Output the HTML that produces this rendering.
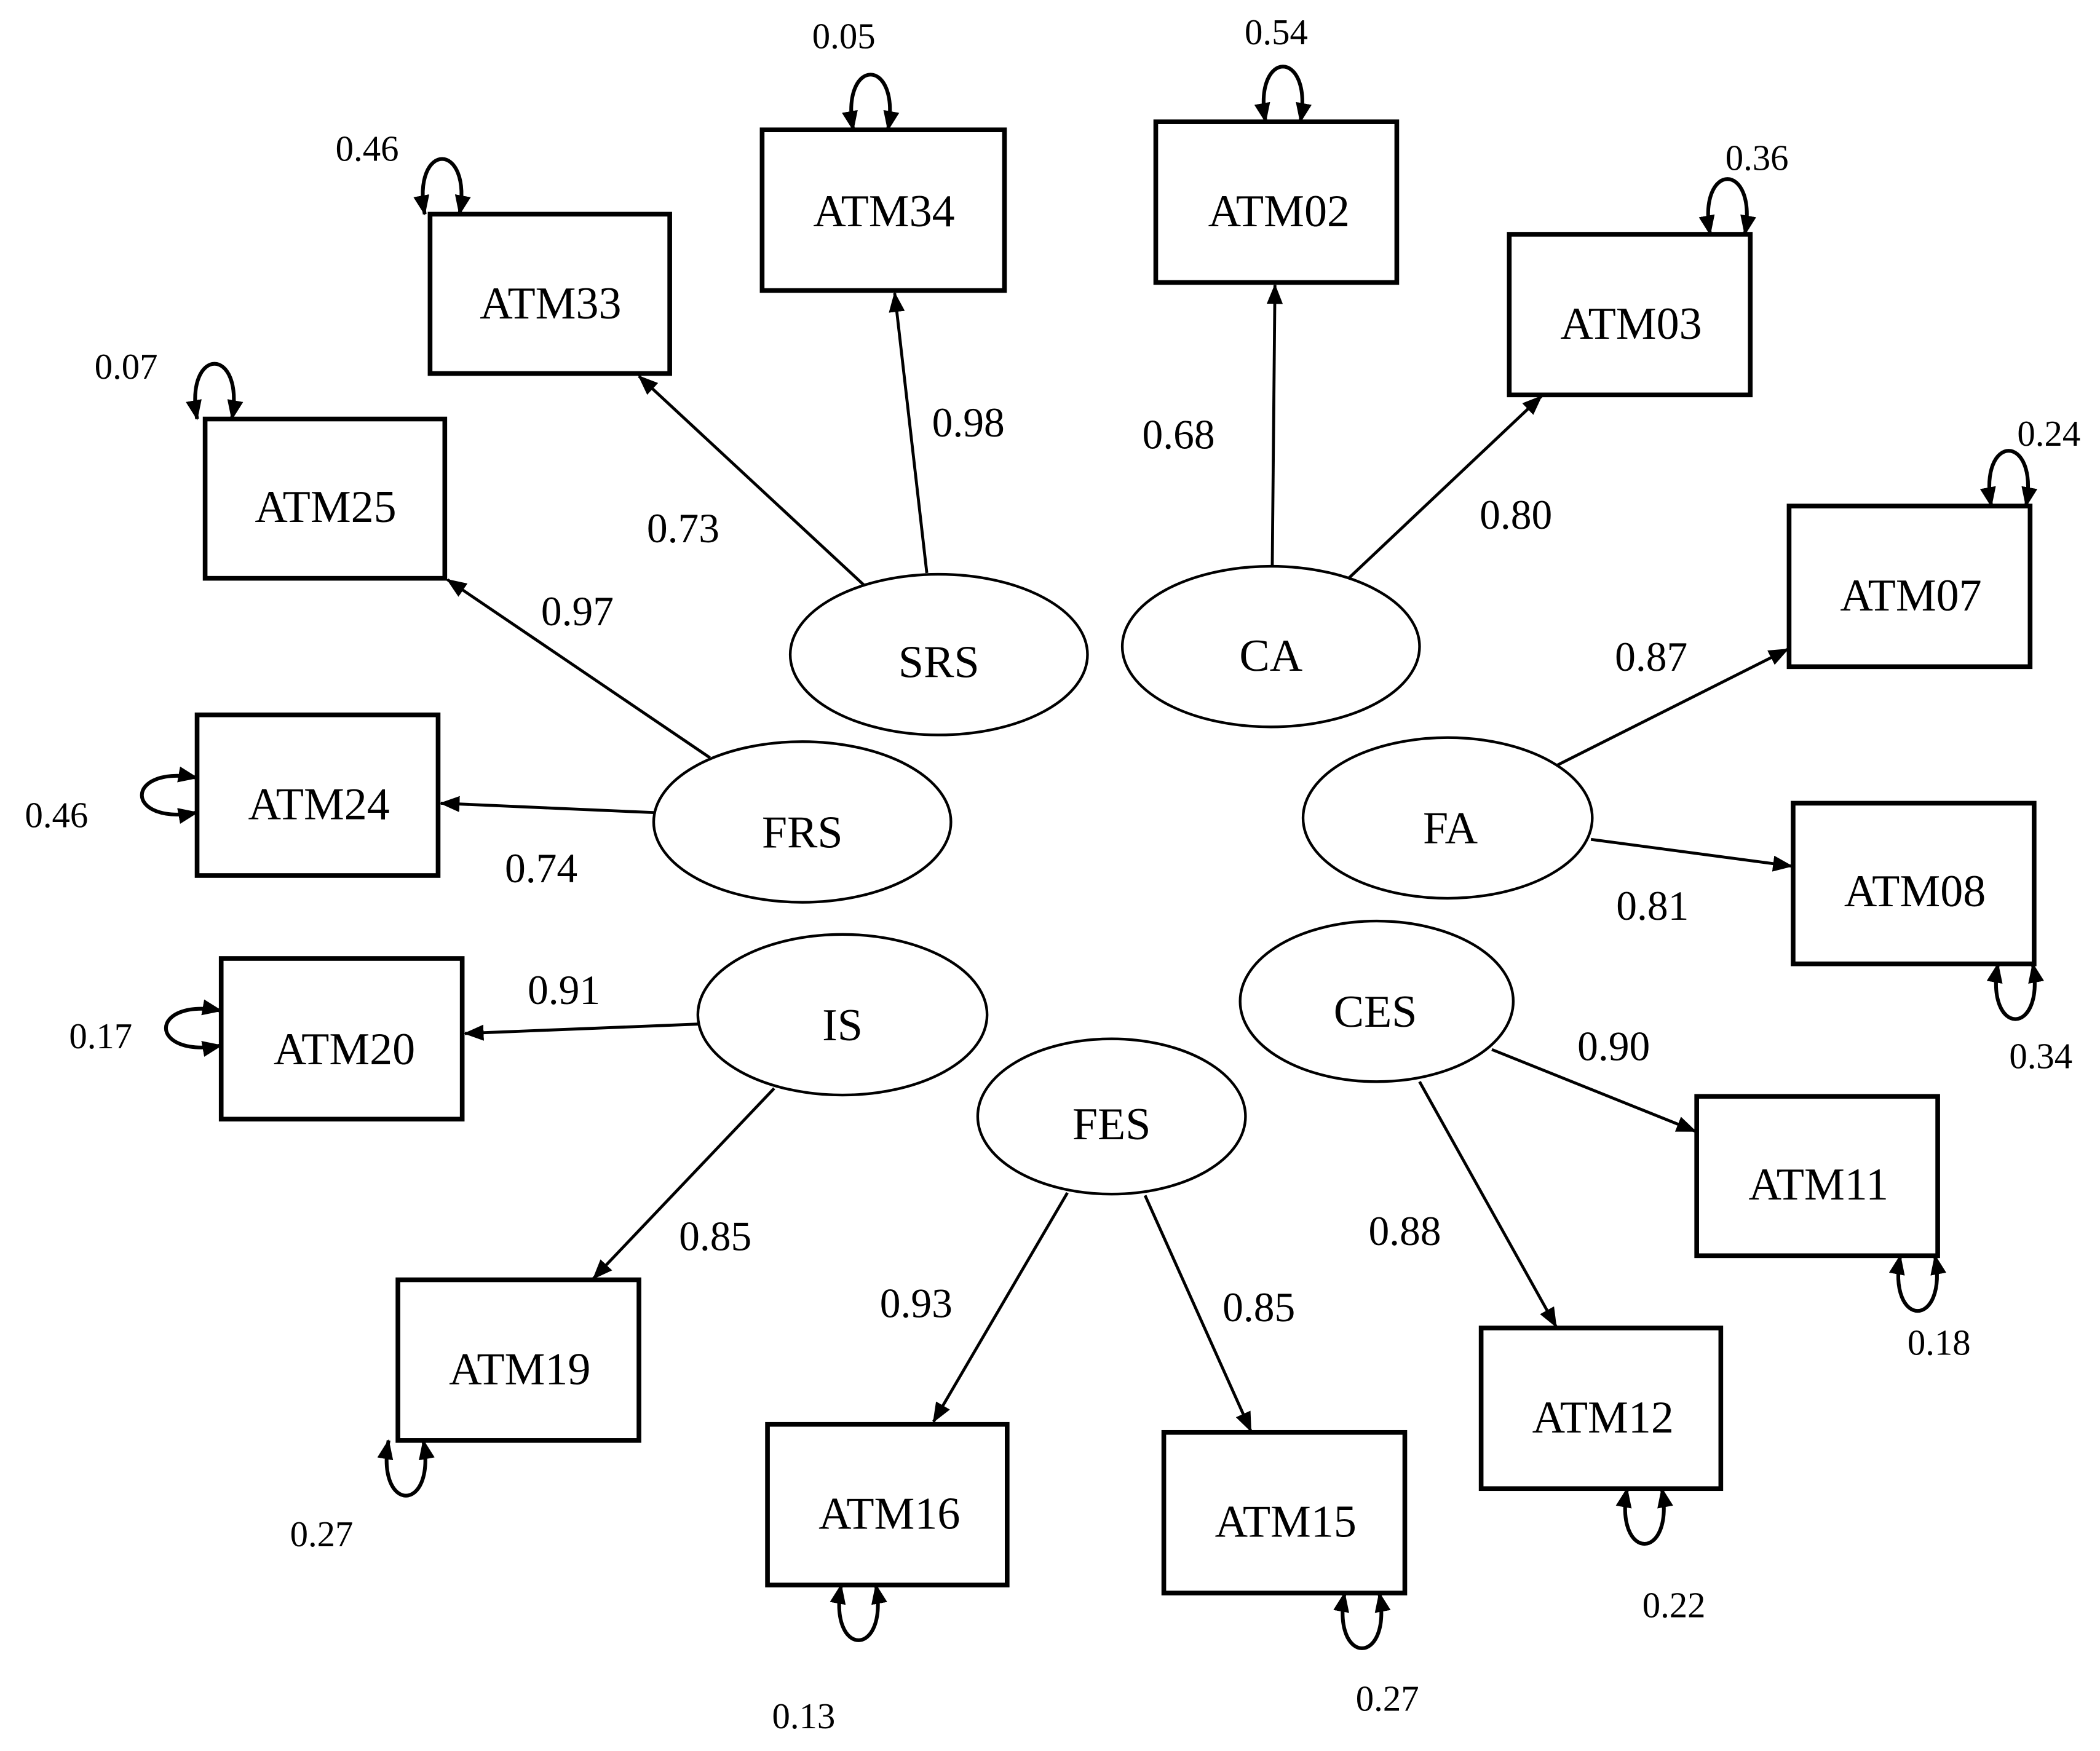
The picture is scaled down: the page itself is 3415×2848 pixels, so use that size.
<!DOCTYPE html>
<html><head><meta charset="utf-8"><style>html,body{margin:0;padding:0;background:#fff}svg{display:block}</style></head>
<body>
<svg width="3415" height="2848" viewBox="0 0 1568 1308" xmlns="http://www.w3.org/2000/svg" font-family="'Liberation Serif', serif">
<defs>
<marker id="a" markerUnits="userSpaceOnUse" markerWidth="16" markerHeight="12" refX="14" refY="6" orient="auto-start-reverse">
<path d="M0,0 L15,6 L0,12 Z" fill="#000"/></marker>
</defs>
<rect width="1568" height="1308" fill="#fff"/>
<g fill="none" stroke="#000" stroke-width="3.5">
<rect x="569" y="97" width="181" height="120"/>
<rect x="321" y="160" width="179" height="119"/>
<rect x="153" y="313" width="179" height="119"/>
<rect x="147" y="534" width="180" height="120"/>
<rect x="165" y="716" width="180" height="120"/>
<rect x="297" y="956" width="180" height="120"/>
<rect x="573" y="1064" width="179" height="120"/>
<rect x="869" y="1070" width="180" height="120"/>
<rect x="1106" y="992" width="179" height="120"/>
<rect x="1267" y="819" width="180" height="119"/>
<rect x="1339" y="600" width="180" height="120"/>
<rect x="1336" y="378" width="180" height="120"/>
<rect x="1127" y="175" width="180" height="120"/>
<rect x="863" y="91" width="180" height="120"/>
</g>
<g fill="none" stroke="#000" stroke-width="2">
<ellipse cx="701" cy="489" rx="111" ry="60"/>
<ellipse cx="949" cy="483" rx="111" ry="60"/>
<ellipse cx="599" cy="614" rx="111" ry="60"/>
<ellipse cx="1081" cy="611" rx="108" ry="60"/>
<ellipse cx="629" cy="758" rx="108" ry="60"/>
<ellipse cx="1028" cy="748" rx="102" ry="60"/>
<ellipse cx="830" cy="834" rx="100" ry="58"/>
</g>
<g fill="none" stroke="#000" stroke-width="2.2" marker-end="url(#a)">
<line x1="645" y1="437" x2="477" y2="281"/>
<line x1="692" y1="428" x2="668" y2="219"/>
<line x1="950" y1="423" x2="952" y2="213"/>
<line x1="1007" y1="432" x2="1151" y2="296"/>
<line x1="530" y1="566" x2="334" y2="433"/>
<line x1="488" y1="607" x2="329" y2="600"/>
<line x1="1162" y1="572" x2="1335" y2="485"/>
<line x1="1188" y1="627" x2="1338" y2="647"/>
<line x1="521" y1="765" x2="347" y2="772"/>
<line x1="578" y1="813" x2="443" y2="955"/>
<line x1="1114" y1="784" x2="1266" y2="845"/>
<line x1="1060" y1="808" x2="1162" y2="991"/>
<line x1="797" y1="891" x2="697" y2="1062"/>
<line x1="855" y1="893" x2="934" y2="1069"/>
</g>
<g fill="none" stroke="#000" stroke-width="2.8" marker-start="url(#a)" marker-end="url(#a)">
<path d="M663 97 C673 42 627 42 637 97"/>
<path d="M971 91 C981 36 935 36 945 91"/>
<path d="M147 581 C92 571 92 617 147 607"/>
<path d="M165 755 C110 745 110 791 165 781"/>
<path d="M628 1184 C618 1239 664 1239 654 1184"/>
<path d="M1004 1190 C994 1245 1040 1245 1030 1190"/>
<path d="M1215 1112 C1205 1167 1251 1167 1241 1112"/>
<path d="M290 1076 C280 1131 326 1131 316 1076"/>
<path d="M1419 938 C1409 993 1455 993 1445 938"/>
<path d="M1492 720 C1482 775 1528 775 1518 720"/>
<path d="M343 160 C353 105 307 105 317 160"/>
<path d="M1303 175 C1313 120 1267 120 1277 175"/>
<path d="M173 313 C183 258 137 258 147 313"/>
<path d="M1513 378 C1523 323 1477 323 1487 378"/>
</g>
<g font-size="34" text-anchor="middle" fill="#000">
<text x="660" y="169">ATM34</text>
<text x="411" y="238">ATM33</text>
<text x="243" y="390">ATM25</text>
<text x="238" y="612">ATM24</text>
<text x="257" y="795">ATM20</text>
<text x="388" y="1034">ATM19</text>
<text x="664" y="1142">ATM16</text>
<text x="960" y="1148">ATM15</text>
<text x="1197" y="1070">ATM12</text>
<text x="1358" y="896">ATM11</text>
<text x="1430" y="677">ATM08</text>
<text x="1427" y="456">ATM07</text>
<text x="1218" y="253">ATM03</text>
<text x="955" y="169">ATM02</text>
<text x="701" y="506">SRS</text>
<text x="949" y="501">CA</text>
<text x="599" y="633">FRS</text>
<text x="1083" y="630">FA</text>
<text x="629" y="777">IS</text>
<text x="1027" y="767">CES</text>
<text x="830" y="851">FES</text>
</g>
<g font-size="31" text-anchor="middle" fill="#000">
<text x="510" y="405">0.73</text>
<text x="723" y="326">0.98</text>
<text x="880" y="335">0.68</text>
<text x="1132" y="395">0.80</text>
<text x="431" y="467">0.97</text>
<text x="404" y="659">0.74</text>
<text x="1233" y="501">0.87</text>
<text x="1234" y="687">0.81</text>
<text x="421" y="750">0.91</text>
<text x="534" y="934">0.85</text>
<text x="684" y="984">0.93</text>
<text x="940" y="987">0.85</text>
<text x="1049" y="930">0.88</text>
<text x="1205" y="792">0.90</text>
</g>
<g font-size="27" text-anchor="middle" fill="#000">
<text x="630" y="36">0.05</text>
<text x="953" y="33">0.54</text>
<text x="274" y="120">0.46</text>
<text x="1312" y="127">0.36</text>
<text x="94" y="283">0.07</text>
<text x="1530" y="333">0.24</text>
<text x="42" y="618">0.46</text>
<text x="75" y="783">0.17</text>
<text x="240" y="1155">0.27</text>
<text x="600" y="1291">0.13</text>
<text x="1036" y="1278">0.27</text>
<text x="1250" y="1208">0.22</text>
<text x="1448" y="1012">0.18</text>
<text x="1524" y="798">0.34</text>
</g>
</svg>
</body></html>
